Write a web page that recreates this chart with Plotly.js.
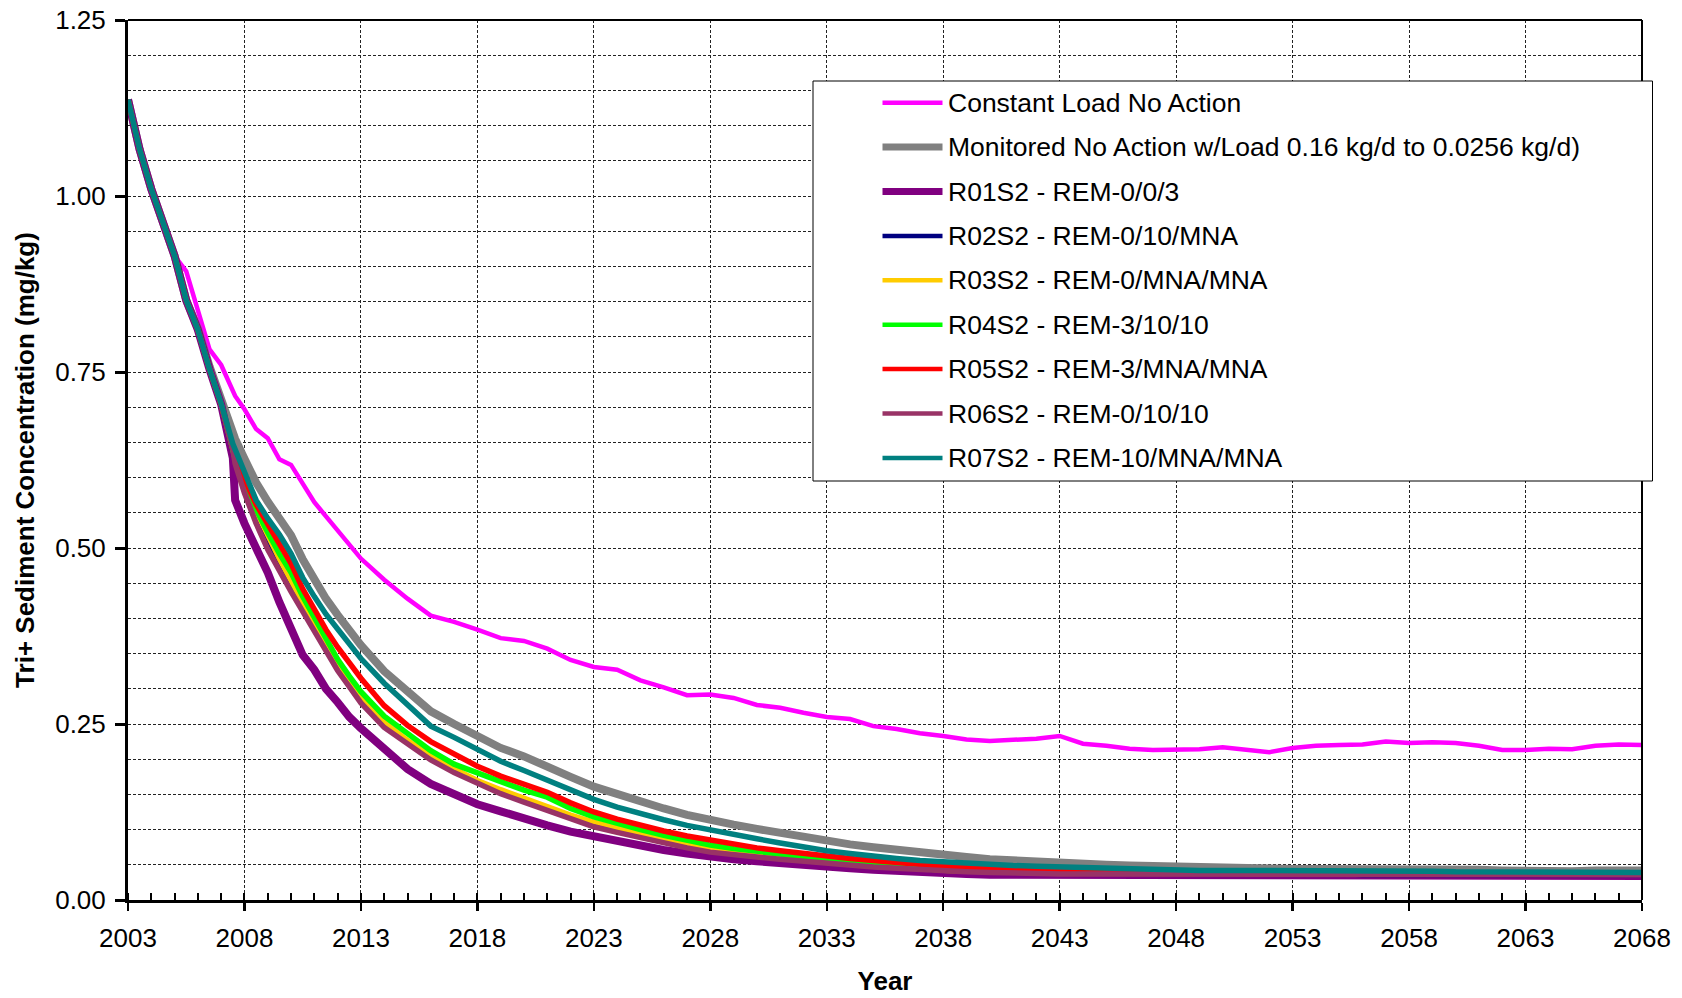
<!DOCTYPE html>
<html>
<head>
<meta charset="utf-8">
<script src="https://cdn.plot.ly/plotly-3.0.1.min.js"></script>
<style>
  html, body { margin: 0; padding: 0; background: #ffffff; }
  #chart { width: 1682px; height: 998px; }
</style>
</head>
<body>
<div id="chart"></div>
<script>
// Model years (half-year steps through 2013, then yearly)
const years = [2003, 2003.5, 2004, 2004.5, 2005, 2005.5, 2006, 2006.5, 2007, 2007.5, 2007.6,
  2008, 2008.5, 2009, 2009.5, 2010, 2010.5, 2011, 2011.5, 2012, 2012.5, 2013,
  2014, 2015, 2016, 2017, 2018, 2019, 2020, 2021, 2022, 2023, 2024, 2025, 2026, 2027,
  2028, 2029, 2030, 2031, 2032, 2033, 2034, 2035, 2036, 2037, 2038, 2039, 2040, 2041,
  2042, 2043, 2044, 2045, 2046, 2047, 2048, 2049, 2050, 2051, 2052, 2053, 2054, 2055,
  2056, 2057, 2058, 2059, 2060, 2061, 2062, 2063, 2064, 2065, 2066, 2067, 2068];

// Tri+ sediment concentration (mg/kg) per scenario
const constantLoadNoAction = [1.137, 1.066, 1.010, 0.960, 0.915, 0.893, 0.840, 0.782, 0.760, 0.720, 0.716,
  0.697, 0.669, 0.656, 0.626, 0.618, 0.592, 0.565, 0.545, 0.525, 0.506, 0.485,
  0.455, 0.428, 0.404, 0.395, 0.384, 0.372, 0.368, 0.357, 0.341, 0.331, 0.327, 0.312, 0.302, 0.291,
  0.292, 0.287, 0.277, 0.273, 0.266, 0.260, 0.257, 0.247, 0.243, 0.237, 0.233, 0.228, 0.226, 0.227,
  0.229, 0.233, 0.222, 0.219, 0.215, 0.213, 0.213, 0.214, 0.217, 0.214, 0.210, 0.216, 0.219, 0.220,
  0.221, 0.225, 0.223, 0.224, 0.223, 0.219, 0.213, 0.213, 0.215, 0.214, 0.219, 0.221, 0.220];

const monitoredNoAction = [1.137, 1.066, 1.010, 0.960, 0.915, 0.852, 0.812, 0.758, 0.712, 0.662, 0.655,
  0.627, 0.593, 0.566, 0.543, 0.518, 0.484, 0.455, 0.428, 0.405, 0.384, 0.362,
  0.325, 0.297, 0.268, 0.250, 0.233, 0.216, 0.204, 0.191, 0.175, 0.161, 0.150, 0.140, 0.130, 0.121,
  0.113, 0.107, 0.101, 0.095, 0.089, 0.083, 0.079, 0.075, 0.071, 0.067, 0.064, 0.061, 0.058, 0.056,
  0.054, 0.052, 0.051, 0.050, 0.049, 0.048, 0.047, 0.046, 0.046, 0.045, 0.045, 0.044, 0.044, 0.044,
  0.044, 0.045, 0.044, 0.044, 0.043, 0.043, 0.042, 0.041, 0.041, 0.041, 0.042, 0.042, 0.042];

const r01s2 = [1.137, 1.066, 1.010, 0.960, 0.915, 0.852, 0.810, 0.754, 0.704, 0.628, 0.568,
  0.535, 0.503, 0.465, 0.423, 0.384, 0.348, 0.327, 0.300, 0.281, 0.260, 0.244,
  0.214, 0.186, 0.165, 0.149, 0.136, 0.126, 0.115, 0.106, 0.097, 0.090, 0.083, 0.077, 0.071, 0.066,
  0.061, 0.058, 0.055, 0.052, 0.050, 0.047, 0.045, 0.043, 0.041, 0.039, 0.038, 0.037, 0.036, 0.036,
  0.035, 0.035, 0.035, 0.035, 0.035, 0.034, 0.034, 0.034, 0.034, 0.034, 0.034, 0.034, 0.034, 0.034,
  0.034, 0.034, 0.034, 0.034, 0.034, 0.034, 0.034, 0.034, 0.034, 0.034, 0.034, 0.034, 0.034];

const r02s2 = [1.137, 1.066, 1.010, 0.960, 0.915, 0.852, 0.810, 0.754, 0.704, 0.640, 0.624,
  0.583, 0.546, 0.513, 0.480, 0.449, 0.416, 0.386, 0.356, 0.329, 0.304, 0.284,
  0.249, 0.224, 0.202, 0.184, 0.168, 0.155, 0.143, 0.131, 0.119, 0.109, 0.100, 0.092, 0.085, 0.078,
  0.072, 0.068, 0.064, 0.061, 0.058, 0.055, 0.052, 0.049, 0.047, 0.044, 0.042, 0.041, 0.040, 0.039,
  0.038, 0.038, 0.038, 0.038, 0.037, 0.037, 0.037, 0.037, 0.037, 0.037, 0.037, 0.037, 0.037, 0.037,
  0.036, 0.036, 0.036, 0.036, 0.036, 0.036, 0.036, 0.036, 0.036, 0.036, 0.036, 0.036, 0.036];

const r03s2 = [1.137, 1.066, 1.010, 0.960, 0.915, 0.852, 0.810, 0.754, 0.704, 0.640, 0.625,
  0.585, 0.550, 0.517, 0.484, 0.453, 0.420, 0.390, 0.360, 0.333, 0.308, 0.288,
  0.253, 0.227, 0.205, 0.187, 0.170, 0.157, 0.145, 0.133, 0.121, 0.111, 0.102, 0.094, 0.087, 0.080,
  0.073, 0.069, 0.065, 0.062, 0.059, 0.056, 0.053, 0.050, 0.047, 0.045, 0.042, 0.041, 0.040, 0.039,
  0.039, 0.039, 0.038, 0.038, 0.038, 0.038, 0.038, 0.038, 0.038, 0.038, 0.038, 0.037, 0.037, 0.037,
  0.037, 0.037, 0.037, 0.037, 0.037, 0.037, 0.037, 0.037, 0.037, 0.037, 0.037, 0.037, 0.037];

const r04s2 = [1.137, 1.066, 1.010, 0.960, 0.915, 0.852, 0.810, 0.754, 0.704, 0.640, 0.626,
  0.588, 0.553, 0.522, 0.492, 0.465, 0.431, 0.400, 0.369, 0.342, 0.318, 0.296,
  0.261, 0.236, 0.212, 0.193, 0.180, 0.167, 0.156, 0.146, 0.130, 0.118, 0.108, 0.100, 0.092, 0.085,
  0.078, 0.073, 0.069, 0.065, 0.061, 0.057, 0.054, 0.051, 0.048, 0.046, 0.043, 0.042, 0.041, 0.040,
  0.040, 0.040, 0.039, 0.039, 0.039, 0.038, 0.038, 0.038, 0.038, 0.038, 0.038, 0.038, 0.038, 0.038,
  0.038, 0.038, 0.038, 0.038, 0.037, 0.037, 0.037, 0.037, 0.037, 0.037, 0.037, 0.037, 0.037];

const r05s2 = [1.137, 1.066, 1.010, 0.960, 0.915, 0.852, 0.810, 0.754, 0.704, 0.643, 0.633,
  0.598, 0.562, 0.535, 0.508, 0.478, 0.442, 0.412, 0.384, 0.359, 0.336, 0.315,
  0.276, 0.248, 0.225, 0.207, 0.190, 0.176, 0.164, 0.153, 0.138, 0.125, 0.115, 0.106, 0.098, 0.091,
  0.085, 0.079, 0.074, 0.070, 0.066, 0.062, 0.059, 0.056, 0.053, 0.050, 0.048, 0.046, 0.044, 0.043,
  0.042, 0.042, 0.041, 0.041, 0.040, 0.040, 0.040, 0.039, 0.039, 0.039, 0.039, 0.039, 0.039, 0.039,
  0.039, 0.039, 0.039, 0.039, 0.038, 0.038, 0.038, 0.038, 0.038, 0.038, 0.038, 0.038, 0.038];

const r06s2 = [1.137, 1.066, 1.010, 0.960, 0.915, 0.852, 0.810, 0.754, 0.704, 0.640, 0.620,
  0.578, 0.535, 0.498, 0.466, 0.438, 0.410, 0.381, 0.354, 0.326, 0.303, 0.280,
  0.245, 0.221, 0.199, 0.181, 0.165, 0.151, 0.139, 0.127, 0.114, 0.104, 0.096, 0.088, 0.081, 0.074,
  0.068, 0.064, 0.061, 0.058, 0.055, 0.052, 0.050, 0.047, 0.045, 0.043, 0.041, 0.040, 0.039, 0.038,
  0.038, 0.037, 0.037, 0.037, 0.037, 0.037, 0.037, 0.036, 0.036, 0.036, 0.036, 0.036, 0.036, 0.036,
  0.036, 0.036, 0.036, 0.036, 0.036, 0.036, 0.036, 0.036, 0.036, 0.036, 0.036, 0.036, 0.036];

const r07s2 = [1.137, 1.066, 1.010, 0.960, 0.915, 0.852, 0.810, 0.754, 0.705, 0.648, 0.640,
  0.610, 0.568, 0.542, 0.519, 0.492, 0.458, 0.431, 0.406, 0.385, 0.363, 0.343,
  0.308, 0.277, 0.247, 0.231, 0.214, 0.197, 0.184, 0.170, 0.155, 0.143, 0.132, 0.122, 0.114, 0.106,
  0.099, 0.092, 0.087, 0.081, 0.075, 0.070, 0.066, 0.062, 0.059, 0.056, 0.054, 0.052, 0.050, 0.049,
  0.048, 0.047, 0.046, 0.045, 0.044, 0.043, 0.043, 0.042, 0.042, 0.042, 0.041, 0.041, 0.041, 0.041,
  0.041, 0.041, 0.041, 0.041, 0.040, 0.040, 0.040, 0.039, 0.039, 0.039, 0.039, 0.039, 0.039];

const seriesNames = [
  'Constant Load No Action',
  'Monitored No Action w/Load 0.16 kg/d to 0.0256 kg/d)',
  'R01S2 - REM-0/0/3',
  'R02S2 - REM-0/10/MNA',
  'R03S2 - REM-0/MNA/MNA',
  'R04S2 - REM-3/10/10',
  'R05S2 - REM-3/MNA/MNA',
  'R06S2 - REM-0/10/10',
  'R07S2 - REM-10/MNA/MNA'
];
const seriesValues = [constantLoadNoAction, monitoredNoAction, r01s2, r02s2, r03s2, r04s2, r05s2, r06s2, r07s2];
const seriesColors = ['#FF00FF', '#808080', '#800080', '#000080', '#FFCC00', '#00FF00', '#FF0000', '#993366', '#008080'];
const seriesWidths = [4.5, 8, 8, 5, 5, 5.5, 5.5, 5.5, 5.5];

const xTickStart = 2003, xTickStep = 5;
const yTickStep = 0.25, yGridStep = 0.05;

// Plot-area geometry in pixels
const W = 1682, H = 998;
const L = 128, R = 1642, T = 20, B = 900;
const px = x => (x - L) / (R - L);
const py = y => (B - y) / (B - T);

const FONT = 'Arial, "Liberation Sans", Helvetica, sans-serif';

const traces = seriesValues.map((vals, i) => ({
  type: 'scatter',
  mode: 'lines',
  x: years,
  y: vals,
  name: seriesNames[i],
  line: { color: seriesColors[i], width: seriesWidths[i], shape: 'linear' },
  showlegend: false,
  hoverinfo: 'x+y+name'
}));

// Boxed key in the upper right
const keyBox = { x0: 813, x1: 1652.5, y0: 81, y1: 481 };
const keyRow0 = 102.7, keyRowStep = 44.4;
const keySampleX0 = 882.5, keySampleX1 = 942.5, keyTextX = 946;
const keySampleWidths = [4.5, 7, 7, 4.5, 4.5, 4.5, 4.5, 4.5, 4.5];

const shapes = [
  // top and right frame lines
  { type: 'line', xref: 'paper', yref: 'paper', x0: 0, x1: 1, y0: 1, y1: 1, line: { color: '#000', width: 2 }, layer: 'above' },
  { type: 'line', xref: 'paper', yref: 'paper', x0: 1, x1: 1, y0: 0, y1: 1, line: { color: '#000', width: 2 }, layer: 'above' },
  { type: 'rect', xref: 'paper', yref: 'paper', x0: px(keyBox.x0), x1: px(keyBox.x1), y0: py(keyBox.y1), y1: py(keyBox.y0),
    fillcolor: '#ffffff', line: { color: '#000', width: 1 }, layer: 'above' }
];
const annotations = [];
seriesNames.forEach((name, i) => {
  const yy = py(keyRow0 + i * keyRowStep);
  shapes.push({ type: 'line', xref: 'paper', yref: 'paper', x0: px(keySampleX0), x1: px(keySampleX1), y0: yy, y1: yy,
    line: { color: seriesColors[i], width: keySampleWidths[i] }, layer: 'above' });
  annotations.push({ xref: 'paper', yref: 'paper', x: px(keyTextX), y: yy, xanchor: 'left', yanchor: 'middle',
    text: name, showarrow: false, font: { family: FONT, size: 26.5, color: '#000' } });
});

const gridDash = '3px,2px';
const layout = {
  width: W, height: H,
  margin: { l: L, r: W - R, t: T, b: H - B, pad: 0 },
  paper_bgcolor: '#ffffff', plot_bgcolor: '#ffffff',
  font: { family: FONT, size: 26, color: '#000' },
  showlegend: false,
  xaxis: {
    range: [2003, 2068], tick0: xTickStart, dtick: xTickStep,
    ticks: 'outside', ticklen: 8, tickwidth: 2.5, tickcolor: '#000',
    showline: true, linewidth: 3, linecolor: '#000', zeroline: false,
    showgrid: true, gridcolor: '#222', gridwidth: 1, griddash: gridDash,
    minor: { dtick: 1, tick0: xTickStart, ticks: 'inside', ticklen: 7, tickwidth: 2, tickcolor: '#000', showgrid: false },
    tickfont: { family: FONT, size: 26, color: '#000' },
    ticklabelstandoff: 5,
    title: { text: 'Year', font: { family: FONT, size: 26, weight: 'bold', color: '#000' }, standoff: 20 },
    automargin: false, fixedrange: true
  },
  xaxis2: {
    overlaying: 'x', anchor: 'y', side: 'bottom',
    range: [2003, 2068], tick0: xTickStart, dtick: xTickStep,
    ticks: 'inside', ticklen: 9, tickwidth: 2.5, tickcolor: '#000',
    showticklabels: false, showgrid: false, showline: false, zeroline: false, fixedrange: true
  },
  yaxis: {
    range: [0, 1.25], tick0: 0, dtick: yTickStep, tickformat: '.2f',
    ticks: 'outside', ticklen: 10, tickwidth: 3, tickcolor: '#000',
    showline: true, linewidth: 3, linecolor: '#000', zeroline: false,
    showgrid: true, gridcolor: '#222', gridwidth: 1, griddash: gridDash,
    minor: { dtick: yGridStep, tick0: 0, showgrid: true, gridcolor: '#222', gridwidth: 1, griddash: gridDash, ticks: '' },
    tickfont: { family: FONT, size: 26, color: '#000' },
    ticklabelstandoff: 4,
    title: { text: 'Tri+ Sediment Concentration (mg/kg)', font: { family: FONT, size: 26, weight: 'bold', color: '#000' }, standoff: 14 },
    automargin: false, fixedrange: true
  },
  shapes: shapes,
  annotations: annotations
};

Plotly.newPlot('chart', traces, layout, { displayModeBar: false, staticPlot: true });
</script>
</body>
</html>
